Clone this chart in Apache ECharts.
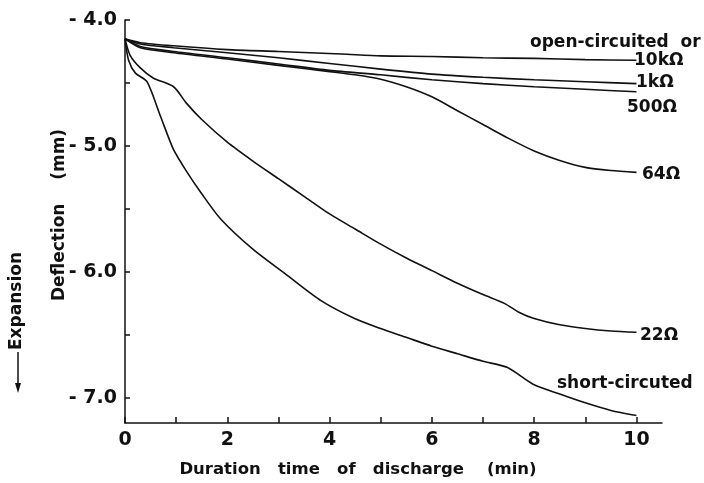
<!DOCTYPE html>
<html>
<head>
<meta charset="utf-8">
<script src="https://cdn.jsdelivr.net/npm/echarts@6/dist/echarts.min.js"></script>
<style>html,body{margin:0;padding:0;background:#fff}#c{width:704px;height:483px}</style>
</head>
<body>
<div id="c"></div>
<script>
// ---- data (time in min, deflection in mm) ----
const tOpen = [0, 0.3, 0.95, 2, 3, 4.23, 5, 6, 7, 8, 9, 10];
const vOpen = [-4.15, -4.18, -4.205, -4.235, -4.25, -4.27, -4.285, -4.29, -4.30, -4.305, -4.315, -4.32];

const t1k = [0, 0.3, 0.95, 2, 3, 4, 5, 6, 7, 8, 9, 10];
const v1k = [-4.15, -4.19, -4.22, -4.26, -4.30, -4.345, -4.39, -4.43, -4.455, -4.475, -4.49, -4.505];

const t500 = [0, 0.3, 0.95, 2, 3, 4, 5, 6, 7, 8, 9, 10];
const v500 = [-4.15, -4.21, -4.25, -4.30, -4.35, -4.40, -4.435, -4.475, -4.505, -4.53, -4.55, -4.57];

const t64 = [0, 0.3, 0.95, 2, 3, 4, 4.5, 5, 5.5, 6, 6.5, 7, 7.5, 8, 8.5, 9, 9.5, 10];
const v64 = [-4.15, -4.22, -4.26, -4.31, -4.36, -4.41, -4.435, -4.47, -4.53, -4.61, -4.72, -4.83, -4.94, -5.04, -5.115, -5.17, -5.195, -5.21];

const t22 = [0, 0.1, 0.3, 0.55, 0.95, 1.2, 1.5, 2, 2.5, 3, 3.5, 4, 4.5, 5, 5.5, 6, 6.5, 7, 7.42, 7.7, 8, 8.5, 9, 9.5, 10];
const v22 = [-4.15, -4.28, -4.38, -4.46, -4.53, -4.66, -4.79, -4.97, -5.12, -5.26, -5.40, -5.54, -5.66, -5.78, -5.89, -5.99, -6.09, -6.18, -6.25, -6.32, -6.37, -6.42, -6.45, -6.47, -6.48];

const tShort = [0, 0.07, 0.2, 0.43, 0.69, 0.95, 1.2, 1.5, 1.87, 2.5, 3.18, 3.84, 4.49, 5, 5.5, 6, 6.5, 7, 7.48, 7.97, 8.5, 9, 9.5, 10];
const vShort = [-4.15, -4.32, -4.42, -4.49, -4.76, -5.03, -5.20, -5.38, -5.58, -5.82, -6.03, -6.23, -6.37, -6.45, -6.52, -6.59, -6.65, -6.71, -6.76, -6.89, -6.97, -7.04, -7.10, -7.14];

const xTicks = [0, 1, 2, 3, 4, 5, 6, 7, 8, 9, 10];
const xLabels = [0, 2, 4, 6, 8, 10];
const yTicks = [-7.0, -6.5, -6.0, -5.5, -5.0, -4.5, -4.0];
const yLabels = [-7.0, -6.0, -5.0, -4.0];

const seriesNames = ['open-circuited or 10kΩ', '1kΩ', '500Ω', '64Ω', '22Ω', 'short-circuted'];
const seriesT = [tOpen, t1k, t500, t64, t22, tShort];
const seriesV = [vOpen, v1k, v500, v64, v22, vShort];

const FONT = 'DejaVu Sans';
const chart = echarts.init(document.getElementById('c'), null, {renderer: 'canvas'});

const series = seriesNames.map((name, i) => ({
  name: name,
  type: 'line',
  data: seriesT[i].map((t, j) => [t, seriesV[i][j]]),
  showSymbol: false,
  smooth: 0.25,
  lineStyle: {color: '#111', width: 1.6},
  silent: true,
  animation: false
}));

function txt(text, x, y, font, align) {
  return {
    type: 'text', x: x, y: y,
    style: {text: text, fill: '#111', font: font || ('bold 17px ' + FONT), textAlign: align || 'left', textVerticalAlign: 'middle'}
  };
}

chart.setOption({
  animation: false,
  backgroundColor: '#fff',
  grid: {left: 125, right: 42, top: 20, bottom: 60, containLabel: false},
  xAxis: {
    type: 'value', min: 0, max: 10.5,
    axisLine: {show: true, lineStyle: {color: '#111', width: 1.5}},
    axisTick: {show: true, inside: true, length: 6, customValues: xTicks, lineStyle: {color: '#111', width: 1.5}},
    axisLabel: {customValues: xLabels, color: '#111', fontFamily: FONT, fontWeight: 'bold', fontSize: 19, margin: 8,
      formatter: v => String(v)},
    splitLine: {show: false}
  },
  yAxis: {
    type: 'value', min: -7.2, max: -4.0,
    axisLine: {show: true, onZero: false, lineStyle: {color: '#111', width: 1.5}},
    axisTick: {show: true, inside: true, length: 5, customValues: yTicks, lineStyle: {color: '#111', width: 1.5}},
    axisLabel: {customValues: yLabels, color: '#111', fontFamily: FONT, fontWeight: 'bold', fontSize: 19, margin: 8,
      formatter: v => '- ' + Math.abs(v).toFixed(1)},
    splitLine: {show: false}
  },
  series: series,
  graphic: [
    txt('open-circuited  or', 530, 43),
    txt('10kΩ', 634, 61),
    txt('1kΩ', 636, 83),
    txt('500Ω', 627, 108),
    txt('64Ω', 642, 175),
    txt('22Ω', 640, 336),
    txt('short-circuted', 557, 384),
    txt('Duration   time   of   discharge    (min)', 358, 470, 'bold 16.5px ' + FONT, 'center'),
    {type: 'text', x: 60, y: 215, rotation: Math.PI / 2,
      style: {text: 'Deflection    (mm)', fill: '#111', font: 'bold 17px ' + FONT, textAlign: 'center', textVerticalAlign: 'middle'}},
    {type: 'text', x: 17, y: 301, rotation: Math.PI / 2,
      style: {text: 'Expansion', fill: '#111', font: 'bold 17px ' + FONT, textAlign: 'center', textVerticalAlign: 'middle'}},
    {type: 'line', shape: {x1: 18, y1: 352, x2: 18, y2: 388}, style: {stroke: '#111', lineWidth: 1.5}},
    {type: 'polygon', shape: {points: [[15, 383], [21, 383], [18, 393]]}, style: {fill: '#111'}}
  ]
});
</script>
</body>
</html>
